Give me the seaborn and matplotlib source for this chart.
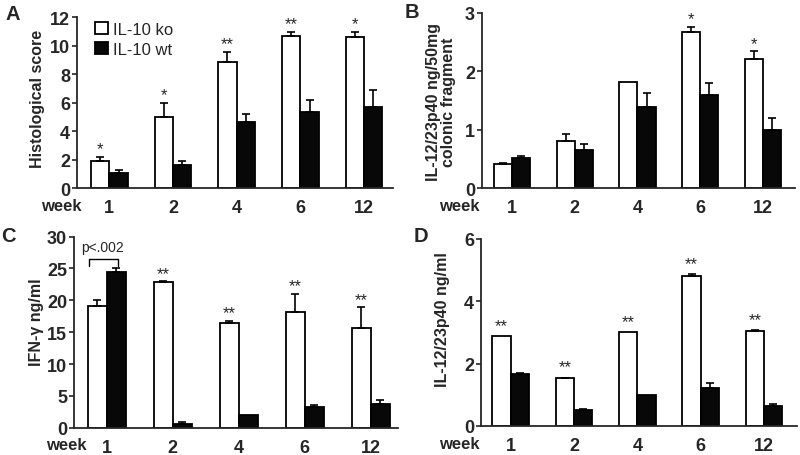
import numpy as np
import pandas as pd
import matplotlib
matplotlib.use("Agg")
import matplotlib.pyplot as plt
import seaborn as sns

# ---------------- data ----------------
weeks = ['1', '2', '4', '6', '12']
groups = ['IL-10 ko', 'IL-10 wt']

A_ko = [1.9, 5.0, 8.85, 10.68, 10.63]
A_ko_err = [0.32, 1.0, 0.73, 0.32, 0.37]
A_wt = [1.05, 1.64, 4.64, 5.32, 5.69]
A_wt_err = [0.24, 0.26, 0.54, 0.88, 1.2]
A_sig = ['*', '*', '**', '**', '*']

B_ko = [0.41, 0.81, 1.82, 2.66, 2.2]
B_ko_err = [0.02, 0.12, 0.0, 0.1, 0.14]
B_wt = [0.51, 0.66, 1.38, 1.59, 1.0]
B_wt_err = [0.04, 0.1, 0.24, 0.21, 0.2]
B_sig = ['', '', '', '*', '*']

C_ko = [19.1, 22.9, 16.4, 18.2, 15.7]
C_ko_err = [0.9, 0.1, 0.4, 2.8, 3.2]
C_wt = [24.5, 0.65, 2.0, 3.3, 3.7]
C_wt_err = [0.55, 0.2, 0.0, 0.25, 0.7]
C_sig = ['', '**', '**', '**', '**']

D_ko = [2.87, 1.53, 3.01, 4.82, 3.04]
D_ko_err = [0.0, 0.02, 0.0, 0.05, 0.02]
D_wt = [1.65, 0.52, 1.0, 1.23, 0.65]
D_wt_err = [0.05, 0.02, 0.0, 0.15, 0.07]
D_sig = ['**', '**', '**', '**', '**']

# ---------------- style ----------------
sns.set_style('ticks')
plt.rcParams['font.family'] = ['Liberation Sans', 'DejaVu Sans']

W, H = 800, 456
fig = plt.figure(figsize=(W / 100, H / 100), dpi=100)


def rect(left, right, bottom, top):
    return [left / W, 1 - bottom / H, (right - left) / W, (bottom - top) / H]


def panel(r, ko, ko_err, wt, wt_err, sig, ymax, yticks, xlim, ylabel,
          ylab_xy, letter, letter_xy, week_xy, star_off, legend=False):
    ax = fig.add_axes(r)
    df = pd.DataFrame({'week': weeks * 2,
                       'value': ko + wt,
                       'group': [groups[0]] * len(weeks) + [groups[1]] * len(weeks)})
    sns.barplot(data=df, x='week', y='value', hue='group', order=weeks,
                hue_order=groups, palette={groups[0]: 'white', groups[1]: '#080808'},
                saturation=1, edgecolor='black', linewidth=1.3, width=0.58,
                errorbar=None, ax=ax, legend=legend)
    for cont, errs in zip(ax.containers, [ko_err, wt_err]):
        for bar, e in zip(cont, errs):
            if e > 0:
                ax.errorbar(bar.get_x() + bar.get_width() / 2, bar.get_height(),
                            yerr=[[0], [e]], fmt='none', ecolor='black',
                            elinewidth=1.2, capsize=2.6, capthick=1.2, zorder=3)
    for bar, e, s in zip(ax.containers[0], ko_err, sig):
        if s:
            ax.annotate(s, (bar.get_x() + bar.get_width() / 2, bar.get_height() + e),
                        xytext=(0, star_off), textcoords='offset points',
                        ha='center', va='baseline', fontsize=12)
    ax.set_ylim(0, ymax)
    ax.set_yticks(yticks)
    ax.set_xlim(*xlim)
    ax.set_xlabel('')
    ax.set_ylabel('')
    ax.tick_params(axis='x', length=0, pad=8, labelsize=13)
    ax.tick_params(axis='y', length=3.5, width=1.2, pad=1.5, labelsize=13)
    for t in ax.get_xticklabels() + ax.get_yticklabels():
        t.set_fontweight('bold')
    for sp in ['top', 'right']:
        ax.spines[sp].set_visible(False)
    for sp in ['left', 'bottom']:
        ax.spines[sp].set_linewidth(1.3)
    fig.text(ylab_xy[0] / W, 1 - ylab_xy[1] / H, ylabel, rotation=90,
             ha='center', va='center', fontsize=11.5, fontweight='bold',
             multialignment='center', linespacing=1.05)
    fig.text(letter_xy[0] / W, 1 - letter_xy[1] / H, letter, ha='center',
             va='center', fontsize=14.5, fontweight='bold')
    fig.text(week_xy[0] / W, 1 - week_xy[1] / H, 'week', ha='right',
             va='center', fontsize=12, fontweight='bold')
    return ax


axA = panel(rect(77, 393, 189.3, 18.3), A_ko, A_ko_err, A_wt, A_wt_err, A_sig,
            12, [0, 2, 4, 6, 8, 10, 12], (-0.507, 4.455), 'Histological score',
            (38, 99), 'A', (12.5, 15), (82, 207), 2.5, legend=True)
h, l = axA.get_legend_handles_labels()
axA.legend(h, l, loc='upper left', bbox_to_anchor=(0.057, 0.975), frameon=False,
           fontsize=12, handlelength=0.75, handleheight=0.75,
           handletextpad=0.3, labelspacing=0.3, borderpad=0, borderaxespad=0)

panel(rect(482, 795, 189.3, 13.5), B_ko, B_ko_err, B_wt, B_wt_err, B_sig,
      3, [0, 1, 2, 3], (-0.478, 4.51), 'IL-12/23p40 ng/50mg\ncolonic fragment',
      (441, 102), 'B', (412, 12), (480, 207), 2.5)

axC = panel(rect(74, 398, 428.8, 237.5), C_ko, C_ko_err, C_wt, C_wt_err, C_sig,
            30, [0, 5, 10, 15, 20, 25, 30], (-0.495, 4.41), 'IFN-γ ng/ml',
            (36, 322), 'C', (8, 237), (87, 446), 2.5)
# p-value bracket for week 1
ko1 = axC.containers[0][0]
wt1 = axC.containers[1][0]
x0 = ko1.get_x() + 0.02
x1 = wt1.get_x() + wt1.get_width() / 2 + 0.03
axC.plot([x0, x0, x1, x1], [25.4, 26.45, 26.45, 25.4], color='black', lw=1.0)
axC.text((x0 + x1) / 2 - 0.02, 27.2, 'p<.002', ha='center', va='bottom', fontsize=10)

panel(rect(481, 797, 427, 239.7), D_ko, D_ko_err, D_wt, D_wt_err, D_sig,
      6, [0, 2, 4, 6], (-0.47, 4.52), 'IL-12/23p40 ng/ml',
      (443, 320), 'D', (421, 236.5), (480, 445), 4.5)

fig.savefig('out.png', dpi=100)
